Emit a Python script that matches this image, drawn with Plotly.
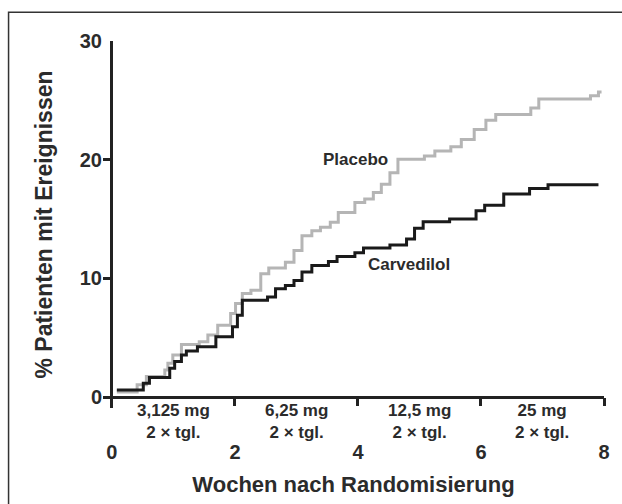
import plotly.graph_objects as go

# ---- data ----
weeks_placebo = [0.08, 0.41, 0.56, 0.86, 0.91, 0.99, 1.13, 1.42, 1.56, 1.72, 1.93, 2.01, 2.12, 2.26,
                 2.42, 2.55, 2.82, 2.96, 3.09, 3.25, 3.39, 3.55, 3.68, 3.95, 4.11, 4.25, 4.38, 4.52,
                 4.65, 5.08, 5.25, 5.51, 5.68, 5.89, 6.08, 6.24, 6.81, 6.94, 7.78, 7.91, 7.96]
pct_placebo = [0.42, 1.03, 1.73, 2.29, 2.85, 3.55, 4.44, 4.66, 5.22, 6.06, 7.04, 7.88, 8.72, 9.0,
               10.39, 10.87, 11.37, 12.35, 13.6, 14.02, 14.3, 14.72, 15.56, 16.4, 16.68, 17.23, 17.93, 18.91,
               20.03, 20.31, 20.73, 21.09, 21.7, 22.54, 23.32, 23.8, 24.36, 25.11, 25.39, 25.7, 25.7]

weeks_carvedilol = [0.08, 0.51, 0.61, 0.94, 1.02, 1.13, 1.21, 1.39, 1.69, 1.96, 2.04, 2.12, 2.53, 2.66,
                    2.82, 2.96, 3.09, 3.25, 3.52, 3.66, 3.95, 4.09, 4.52, 4.79, 4.92, 5.06, 5.49, 5.92,
                    6.06, 6.37, 6.79, 7.09, 7.91]
pct_carvedilol = [0.6, 1.17, 1.65, 2.43, 3.0, 3.55, 3.88, 4.25, 5.08, 5.92, 6.9, 8.16, 8.44, 9.13,
                  9.41, 9.83, 10.53, 11.09, 11.42, 11.84, 12.15, 12.57, 12.82, 13.32, 14.22, 14.78, 15.0, 15.7,
                  16.17, 17.12, 17.57, 17.88, 17.88]

series_names = ["Placebo", "Carvedilol"]
dose_centers = [1, 3, 5, 7]
dose_labels = ["3,125 mg<br>2 × tgl.", "6,25 mg<br>2 × tgl.", "12,5 mg<br>2 × tgl.", "25 mg<br>2 × tgl."]
x_ticks = [0, 2, 4, 6, 8]
y_ticks = [0, 10, 20, 30]

FONT = "Liberation Sans, Arial, sans-serif"
TXT = "#2b2b2b"
AX = "#222222"

fig = go.Figure()
fig.add_trace(go.Scatter(x=weeks_placebo, y=pct_placebo, mode="lines", name=series_names[0],
                         line=dict(color="#b5b5b5", width=3, shape="hv"), showlegend=False))
fig.add_trace(go.Scatter(x=weeks_carvedilol, y=pct_carvedilol, mode="lines", name=series_names[1],
                         line=dict(color="#1a1a1a", width=3, shape="hv"), showlegend=False))

# series labels
fig.add_annotation(x=3.96, y=20.0, text="<b>Placebo</b>", showarrow=False,
                   font=dict(family=FONT, size=17, color=TXT))
fig.add_annotation(x=4.83, y=11.2, text="<b>Carvedilol</b>", showarrow=False,
                   font=dict(family=FONT, size=17, color=TXT))

# dosage labels under the axis
for xc, lab in zip(dose_centers, dose_labels):
    fig.add_annotation(x=xc, y=0, yanchor="top", yshift=-2,
                       text="<b>" + lab.replace("<br>", "</b><br><b>") + "</b>",
                       showarrow=False, font=dict(family=FONT, size=17, color=TXT))

# outer frame
fig.add_shape(type="rect", xref="paper", yref="paper", x0=-0.1885, x1=1.15, y0=-0.4, y1=1.0786,
              line=dict(color="#333333", width=1.5), fillcolor="rgba(0,0,0,0)", layer="below")

fig.update_layout(
    width=622, height=504,
    margin=dict(l=103, r=15, t=41, b=94),
    paper_bgcolor="white", plot_bgcolor="white",
    font=dict(family=FONT, color=TXT),
    xaxis=dict(range=[-0.145, 8.0], tickvals=x_ticks, ticktext=[str(v) for v in x_ticks],
               showgrid=False, showline=False, zeroline=True, zerolinecolor=AX, zerolinewidth=2.5,
               ticks="outside", ticklen=8, tickwidth=2.5, tickcolor=AX,
               anchor="free", position=0.0298, ticklabelstandoff=29,
               tickfont=dict(family=FONT, size=20, color=TXT, weight="bold"),
               title=dict(text="<b>Wochen nach Randomisierung</b>", font=dict(family=FONT, size=22, color=TXT),
                          standoff=14)),
    yaxis=dict(range=[-0.92, 30.0], tickvals=y_ticks, showgrid=False, showline=False,
               zeroline=True, zerolinecolor=AX, zerolinewidth=2.5,
               ticks="inside", ticklen=8, tickwidth=2.5, tickcolor=AX,
               tickfont=dict(family=FONT, size=20, color=TXT, weight="bold"),
               title=dict(text="<b>% Patienten mit Ereignissen</b>", font=dict(family=FONT, size=23, color=TXT),
                          standoff=20)),
)

fig.write_html("out.html")
